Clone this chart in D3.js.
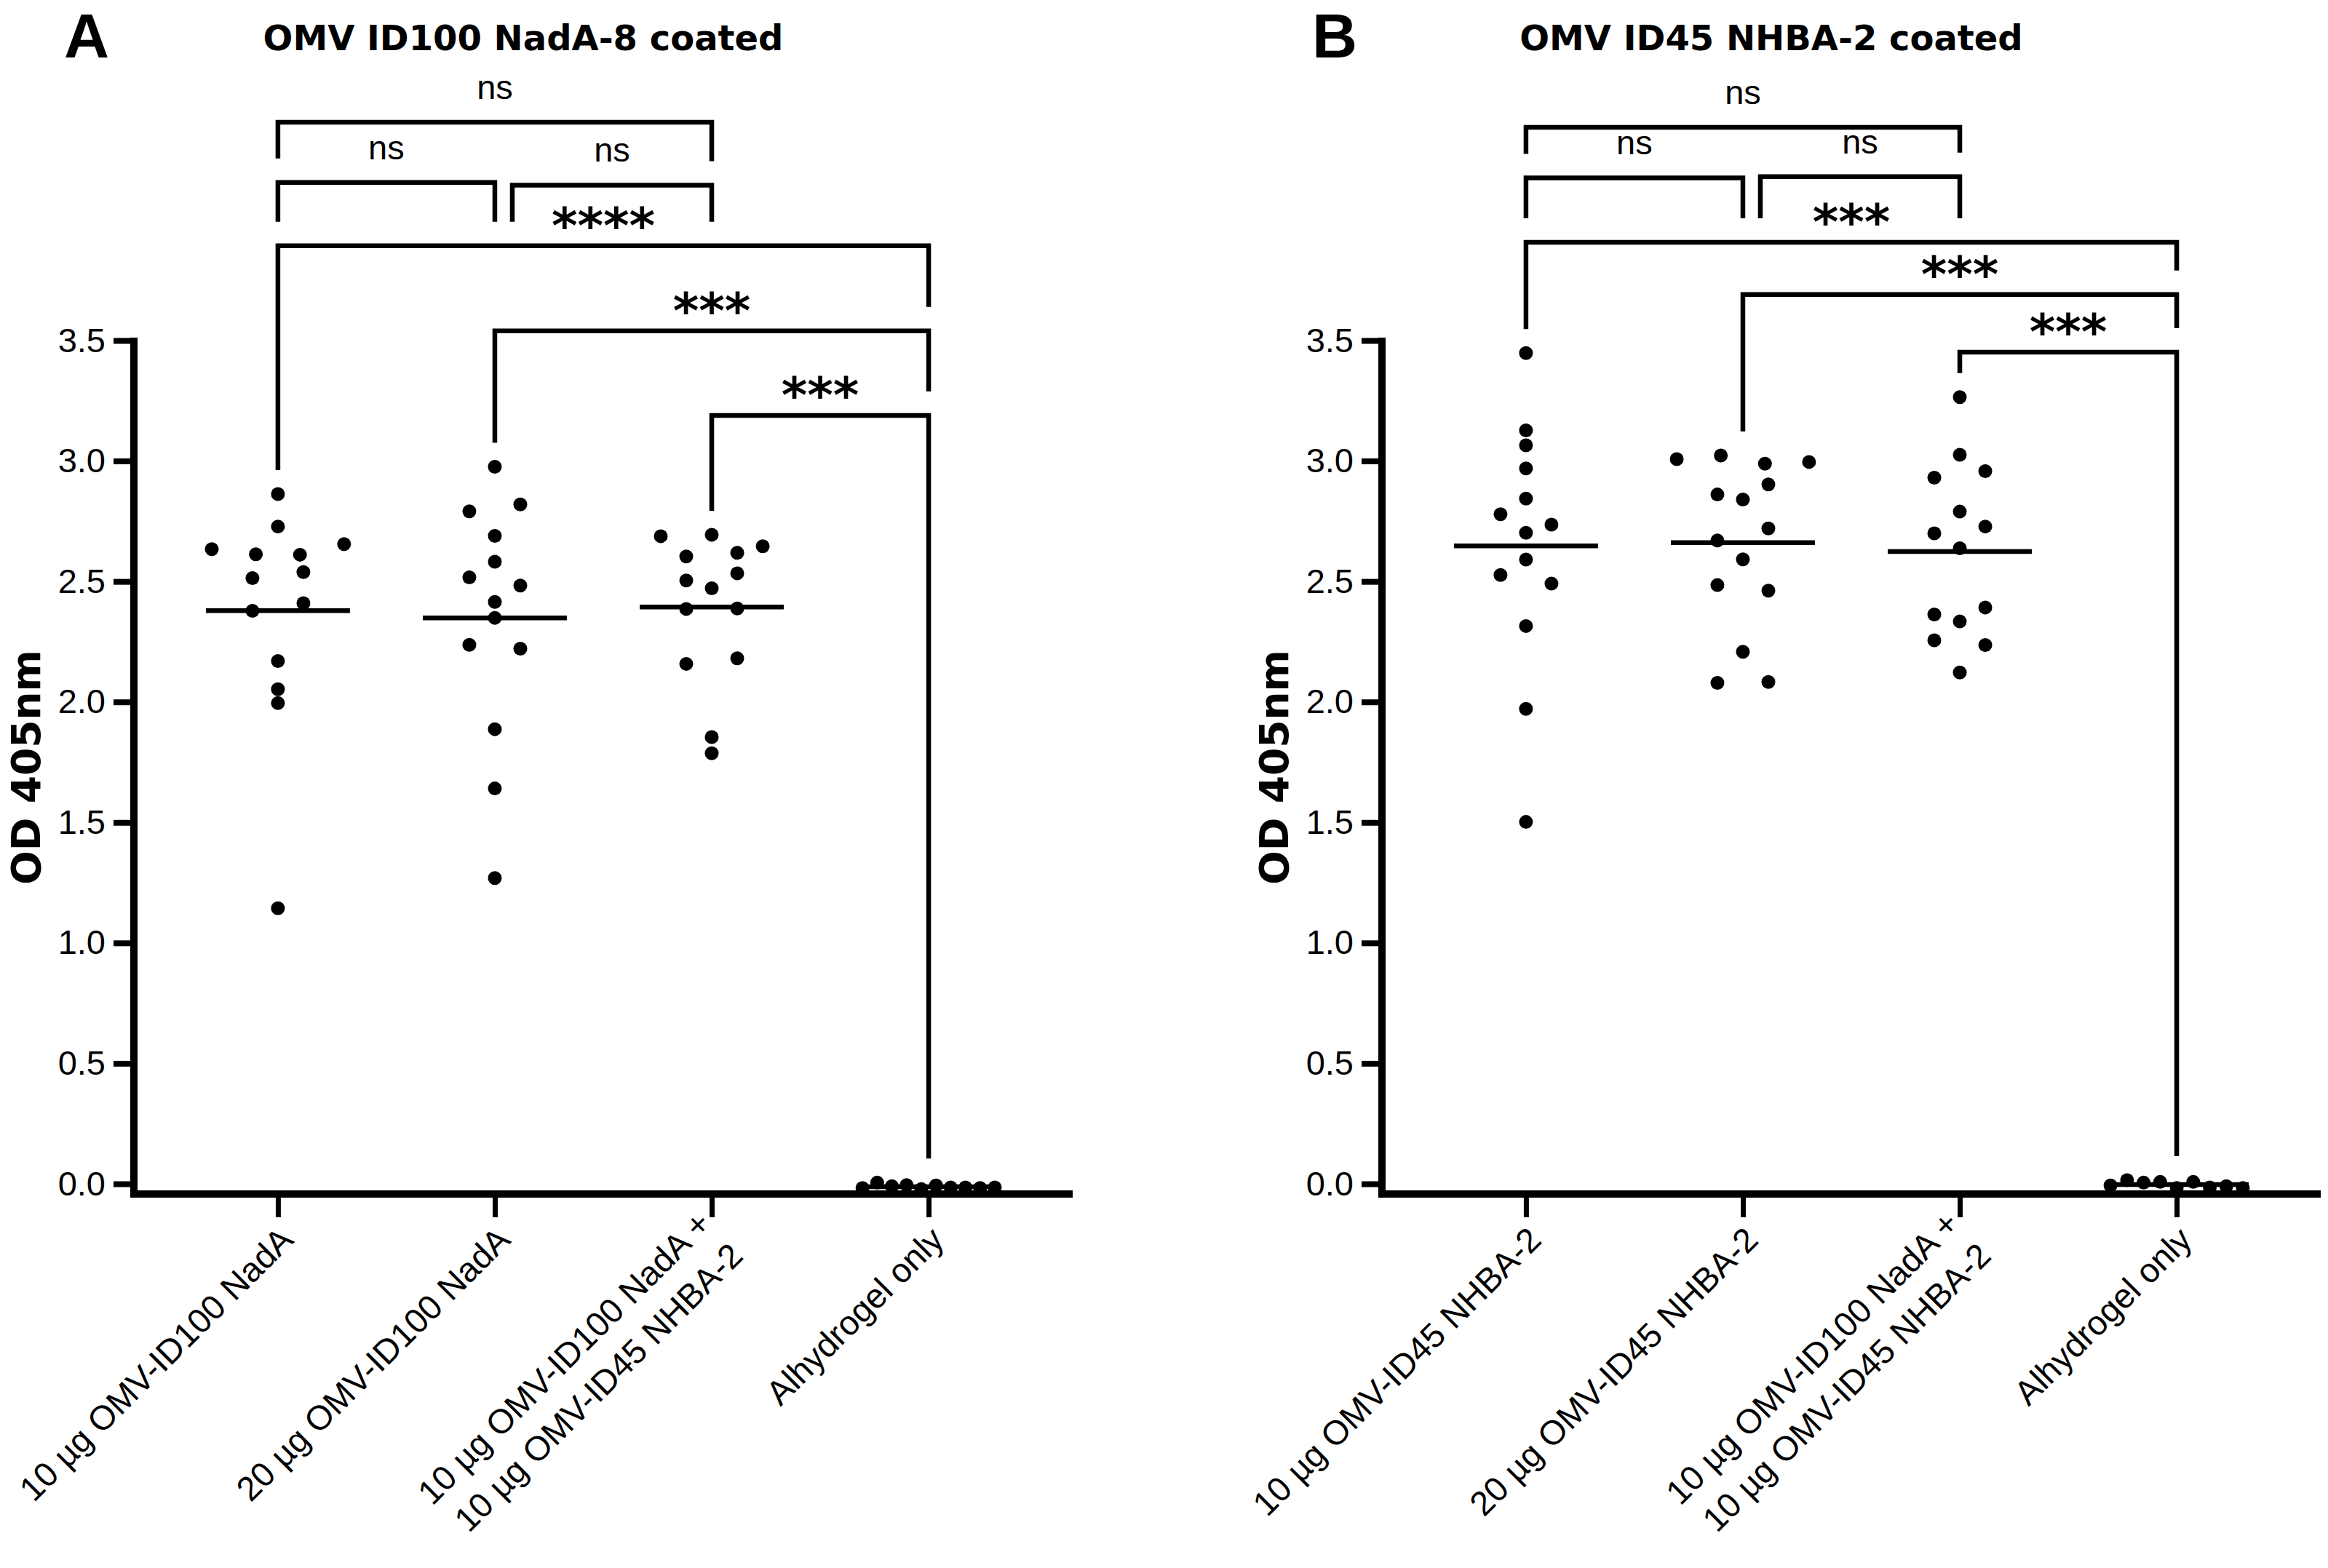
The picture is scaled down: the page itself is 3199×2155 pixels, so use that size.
<!DOCTYPE html>
<html>
<head>
<meta charset="utf-8">
<script src="https://cdn.jsdelivr.net/npm/d3@7"></script>
<style>
  body { margin: 0; background: #fff; }
</style>
</head>
<body>
<script>
// OD 405nm values per group, listed in left-to-right order within each dot row
const yTicks = [0, 0.5, 1, 1.5, 2, 2.5, 3, 3.5];

const labelsA = ['10 µg OMV-ID100 NadA', '20 µg OMV-ID100 NadA',
  '10 µg OMV-ID100 NadA +\n10 µg OMV-ID45 NHBA-2', 'Alhydrogel only'];
const labelsB = ['10 µg OMV-ID45 NHBA-2', '20 µg OMV-ID45 NHBA-2',
  '10 µg OMV-ID100 NadA +\n10 µg OMV-ID45 NHBA-2', 'Alhydrogel only'];

const aGroup1 = [2.863, 2.728, 2.634, 2.613, 2.611, 2.655, 2.514, 2.539, 2.378, 2.410, 2.170, 2.053, 1.995, 1.144];
const aGroup2 = [2.976, 2.791, 2.820, 2.689, 2.582, 2.517, 2.483, 2.415, 2.349, 2.237, 2.221, 1.887, 1.641, 1.269];
const aGroup3 = [2.688, 2.694, 2.646, 2.604, 2.619, 2.504, 2.534, 2.472, 2.386, 2.388, 2.158, 2.181, 1.854, 1.787];
const aGroup4 = [-0.017, 0.005, -0.010, -0.005, -0.022, -0.007, -0.015, -0.015, -0.017, -0.015];

const bGroup1 = [3.448, 3.127, 3.065, 2.969, 2.844, 2.779, 2.736, 2.702, 2.591, 2.527, 2.491, 2.315, 1.971, 1.502];
const bGroup2 = [3.008, 3.023, 2.989, 2.996, 2.861, 2.903, 2.840, 2.670, 2.720, 2.592, 2.485, 2.462, 2.208, 2.079, 2.083];
const bGroup3 = [3.265, 3.026, 2.931, 2.958, 2.790, 2.700, 2.728, 2.638, 2.363, 2.392, 2.334, 2.256, 2.236, 2.122];
const bGroup4 = [-0.007, 0.015, 0.005, 0.008, -0.017, 0.008, -0.015, -0.010, -0.017];

// multiple comparisons: group indices, label, bracket level in OD units
const compA = [
  { from: 0, to: 2, label: 'ns', at: 4.406 },
  { from: 0, to: 1, label: 'ns', at: 4.156 },
  { from: 1, to: 2, label: 'ns', at: 4.145 },
  { from: 0, to: 3, label: '****', at: 3.893 },
  { from: 1, to: 3, label: '***', at: 3.540 },
  { from: 2, to: 3, label: '***', at: 3.189 }
];
const compB = [
  { from: 0, to: 2, label: 'ns', at: 4.385 },
  { from: 0, to: 1, label: 'ns', at: 4.175 },
  { from: 1, to: 2, label: 'ns', at: 4.180 },
  { from: 0, to: 3, label: '***', at: 3.908 },
  { from: 1, to: 3, label: '***', at: 3.691 },
  { from: 2, to: 3, label: '***', at: 3.452 }
];

const W = 3199, H = 2155;
const plotW = 1290;
const sans = '"Liberation Sans", Arial, Helvetica, sans-serif';
const wide = '"DejaVu Sans", Verdana, sans-serif';

const svg = d3.select('body').append('svg')
    .attr('width', W)
    .attr('height', H)
    .attr('viewBox', [0, 0, W, H])
    .style('background', '#fff');

const y = d3.scaleLinear().domain([0, 3.5]).range([1627, 468]);
const baseY = y(0) + 14;

// rows of near-equal values are spread side by side, centred on the group
function swarm(values, step) {
  const slot = step * 0.1175, maxHalf = step * 0.305;
  const order = values.map((v, i) => ({ v, i })).sort((a, b) => b.v - a.v);
  const rows = [];
  for (const p of order) {
    const row = rows[rows.length - 1];
    if (row && row[0].v - p.v <= 0.055) row.push(p);
    else rows.push([p]);
  }
  const out = [];
  for (const row of rows) {
    row.sort((a, b) => a.i - b.i);
    const n = row.length;
    const sp = n > 1 ? Math.min(slot * 2, 2 * maxHalf / (n - 1)) : 0;
    row.forEach((p, k) => out.push({ v: p.v, dx: (k - (n - 1) / 2) * sp }));
  }
  return out;
}

function drawPanel(left, letter, title, labels, groups, comps) {
  const g = svg.append('g');
  const x = d3.scalePoint().domain(d3.range(labels.length))
      .range([left, left + plotW]).padding(0.664);
  const step = x.step();

  g.append('text')
      .attr('x', left - 96).attr('y', 79)
      .attr('font-family', sans).attr('font-weight', 'bold').attr('font-size', 86)
      .text(letter);

  g.append('text')
      .attr('x', left + 535).attr('y', 69)
      .attr('text-anchor', 'middle')
      .attr('font-family', wide).attr('font-weight', 'bold').attr('font-size', 48)
      .text(title);

  // brackets
  const legEnd = (c, idx) => {
    const below = comps.filter(d => d !== c && d.at < c.at - 0.1 && d.from <= idx && d.to >= idx);
    if (below.length) return y(d3.max(below, d => d.at)) - 33;
    return y(d3.max(groups[idx])) - 33;
  };
  for (const c of comps) {
    const inset = comps.some(d => d.to === c.from && Math.abs(d.at - c.at) < 0.1) ? 24 : 0;
    const x1 = x(c.from) + inset, x2 = x(c.to), yl = y(c.at);
    g.append('path')
        .attr('d', `M${x1},${legEnd(c, c.from)}V${yl}H${x2}V${legEnd(c, c.to)}`)
        .attr('fill', 'none').attr('stroke', '#000').attr('stroke-width', 6.5);
    const stars = c.label !== 'ns';
    g.append('text')
        .attr('x', (x1 + x2) / 2)
        .attr('y', stars ? yl - 4 : yl - 32)
        .attr('text-anchor', 'middle')
        .attr('font-family', stars ? wide : sans)
        .attr('font-weight', stars ? 'bold' : 'normal')
        .attr('font-size', stars ? 68 : 47)
        .text(c.label);
  }

  // mean lines
  g.append('g')
    .selectAll('line')
    .data(groups)
    .join('line')
      .attr('x1', (d, i) => x(i) - step * 0.332)
      .attr('x2', (d, i) => x(i) + step * 0.332)
      .attr('y1', d => y(d3.mean(d)))
      .attr('y2', d => y(d3.mean(d)))
      .attr('stroke', '#000')
      .attr('stroke-width', 6.5);

  // dots
  groups.forEach((vals, i) => {
    g.append('g')
      .selectAll('circle')
      .data(swarm(vals, step))
      .join('circle')
        .attr('cx', d => x(i) + d.dx)
        .attr('cy', d => y(d.v))
        .attr('r', 9.5)
        .attr('fill', '#000');
  });

  // y axis
  g.append('g')
      .attr('transform', `translate(${left},0)`)
      .call(d3.axisLeft(y).tickValues(yTicks).tickFormat(d3.format('.1f')).tickSize(28).tickPadding(11))
      .call(a => a.select('.domain').remove())
      .call(a => a.selectAll('line').attr('stroke', '#000').attr('stroke-width', 8))
      .call(a => a.selectAll('text').attr('fill', '#000').attr('font-family', sans).attr('font-size', 47));
  g.append('line')
      .attr('x1', left).attr('x2', left)
      .attr('y1', y(3.5) - 4).attr('y2', baseY + 5)
      .attr('stroke', '#000').attr('stroke-width', 10);

  // x axis
  g.append('g')
      .attr('transform', `translate(0,${baseY})`)
      .call(d3.axisBottom(x).tickSize(32).tickFormat(() => ''))
      .call(a => a.select('.domain').remove())
      .call(a => a.selectAll('line').attr('stroke', '#000').attr('stroke-width', 7));
  g.append('line')
      .attr('x1', left - 5).attr('x2', left + plotW)
      .attr('y1', baseY).attr('y2', baseY)
      .attr('stroke', '#000').attr('stroke-width', 10);

  labels.forEach((lab, i) => {
    const lines = lab.split('\n');
    const lg = g.append('g')
        .attr('transform', `translate(${x(i) + 12},${baseY + 54}) rotate(-45)`);
    lines.forEach((ln, k) => {
      lg.append('text')
          .attr('y', (k - (lines.length - 1) / 2) * 62)
          .attr('dy', '0.35em')
          .attr('text-anchor', 'end')
          .attr('font-family', sans)
          .attr('font-size', 47)
          .text(ln);
    });
  });

  g.append('text')
      .attr('transform', `translate(${left - 129},${(y(3.5) + baseY) / 2}) rotate(-90)`)
      .attr('text-anchor', 'middle')
      .attr('font-family', wide).attr('font-weight', 'bold').attr('font-size', 55)
      .text('OD 405nm');
}

drawPanel(184, 'A', 'OMV ID100 NadA-8 coated', labelsA, [aGroup1, aGroup2, aGroup3, aGroup4], compA);
drawPanel(1899, 'B', 'OMV ID45 NHBA-2 coated', labelsB, [bGroup1, bGroup2, bGroup3, bGroup4], compB);
</script>
</body>
</html>
